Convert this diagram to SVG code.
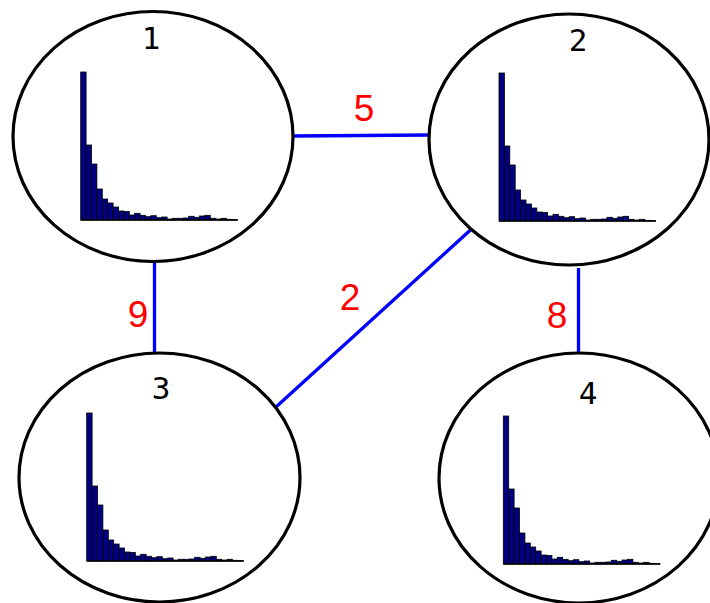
<svg xmlns="http://www.w3.org/2000/svg" xmlns:xlink="http://www.w3.org/1999/xlink" width="710" height="603" viewBox="0 0 710 603">
<style>
.node{fill:#fff;stroke:#000;stroke-width:3.2}
.lbl{font-family:"DejaVu Sans Mono","Liberation Mono",monospace;font-size:31px;fill:#000;text-anchor:middle}
.edge{stroke:#0000ff;stroke-width:3.3;fill:none}
.w{font-family:"Liberation Sans",Arial,sans-serif;font-size:37px;fill:#ff0000;text-anchor:middle}
.bar{fill:#000080;stroke:#000;stroke-width:0.8}
.axis{stroke:#000;stroke-width:1.5}
</style>
<defs>
<g id="hist">
<rect class="bar" x="0" y="-148" width="5.4" height="148"/>
<rect class="bar" x="5.4" y="-75" width="5.4" height="75"/>
<rect class="bar" x="10.8" y="-56" width="5.4" height="56"/>
<rect class="bar" x="16.2" y="-31" width="5.4" height="31"/>
<rect class="bar" x="21.6" y="-21" width="5.4" height="21"/>
<rect class="bar" x="27" y="-17" width="5.4" height="17"/>
<rect class="bar" x="32.4" y="-13" width="5.4" height="13"/>
<rect class="bar" x="37.8" y="-9" width="5.4" height="9"/>
<rect class="bar" x="43.2" y="-8.5" width="5.4" height="8.5"/>
<rect class="bar" x="48.6" y="-5" width="5.4" height="5"/>
<rect class="bar" x="54" y="-6.7" width="5.4" height="6.7"/>
<rect class="bar" x="59.4" y="-4.7" width="5.4" height="4.7"/>
<rect class="bar" x="64.8" y="-3.3" width="5.4" height="3.3"/>
<rect class="bar" x="70.2" y="-4.3" width="5.4" height="4.3"/>
<rect class="bar" x="75.6" y="-2.3" width="5.4" height="2.3"/>
<rect class="bar" x="81" y="-3" width="5.4" height="3"/>
<rect class="bar" x="86.4" y="-1" width="5.4" height="1"/>
<rect class="bar" x="91.8" y="-1.7" width="5.4" height="1.7"/>
<rect class="bar" x="97.2" y="-1.7" width="5.4" height="1.7"/>
<rect class="bar" x="102.6" y="-2" width="5.4" height="2"/>
<rect class="bar" x="108" y="-3.7" width="5.4" height="3.7"/>
<rect class="bar" x="113.4" y="-2.7" width="5.4" height="2.7"/>
<rect class="bar" x="118.8" y="-4" width="5.4" height="4"/>
<rect class="bar" x="124.2" y="-4.7" width="5.4" height="4.7"/>
<rect class="bar" x="129.6" y="-1.7" width="5.4" height="1.7"/>
<rect class="bar" x="135" y="-1" width="5.4" height="1"/>
<rect class="bar" x="140.4" y="-1.7" width="5.4" height="1.7"/>
<rect class="bar" x="145.8" y="-0.7" width="5.4" height="0.7"/>
<rect class="bar" x="151.2" y="-0.3" width="5.4" height="0.3"/>
<line class="axis" x1="0" y1="0" x2="157" y2="0"/>
</g>
</defs>
<g id="edges">
<line class="edge" x1="293" y1="136" x2="430" y2="135"/>
<line class="edge" x1="154.5" y1="263" x2="154.5" y2="353"/>
<line class="edge" x1="471" y1="229.5" x2="276" y2="407"/>
<line class="edge" x1="578.5" y1="268" x2="578.5" y2="353"/>
<text class="w" x="364" y="121">5</text>
<text class="w" x="138" y="327">9</text>
<text class="w" x="350" y="310">2</text>
<text class="w" x="557" y="328">8</text>
</g>
<g id="node1">
<ellipse class="node" cx="153" cy="136.5" rx="140" ry="125"/>
<text class="lbl" x="151" y="49">1</text>
<use xlink:href="#hist" href="#hist" x="80.7" y="220"/>
</g>
<g id="node2">
<ellipse class="node" cx="569" cy="139.5" rx="140" ry="125.5"/>
<text class="lbl" x="578" y="51">2</text>
<use xlink:href="#hist" href="#hist" x="499" y="221"/>
</g>
<g id="node3">
<ellipse class="node" cx="159.5" cy="477.5" rx="140.5" ry="124.5"/>
<text class="lbl" x="161" y="399">3</text>
<use xlink:href="#hist" href="#hist" x="86.7" y="561"/>
</g>
<g id="node4">
<ellipse class="node" cx="579" cy="478" rx="140" ry="125"/>
<text class="lbl" x="588" y="404">4</text>
<use xlink:href="#hist" href="#hist" x="503.3" y="564"/>
</g>
</svg>
